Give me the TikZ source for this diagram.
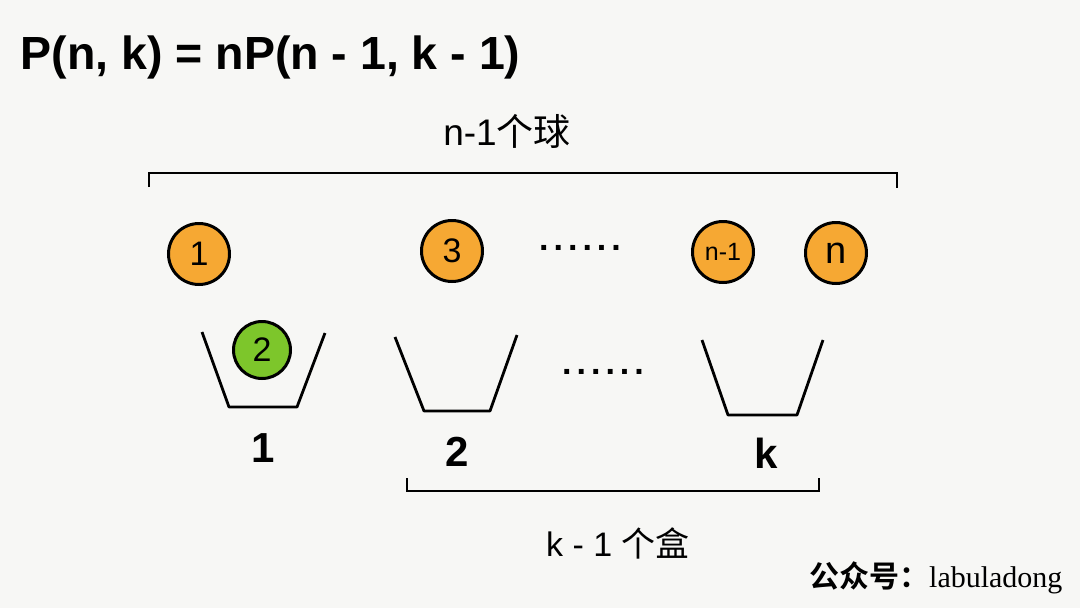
\documentclass[tikz,border=0pt]{standalone}
\usepackage{fontspec}
\setmainfont{Liberation Sans}
\newfontfamily\cjk{Noto Sans CJK SC}
\newfontfamily\cjkbold{Noto Sans CJK SC Bold}
\newfontfamily\serif{Liberation Serif}
\definecolor{paper}{HTML}{F7F7F5}
\definecolor{ballorange}{HTML}{F6A833}
\definecolor{ballgreen}{HTML}{7DC62B}
\newcommand{\dotrow}{.\hspace{5pt}.\hspace{5pt}.\hspace{5pt}.\hspace{5pt}.\hspace{5pt}.}
\tikzset{
  ball/.style={circle, draw, line width=3pt, minimum size=61pt, inner sep=0pt, font=\fontsize{34}{34}\selectfont},
  bucket/.style={line width=2.8pt, line join=round},
  brace/.style={line width=2.2pt},
  boxlabel/.style={font=\fontsize{42}{42}\selectfont\bfseries},
  dotlabel/.style={font=\fontsize{34}{34}\selectfont\bfseries}
}
\begin{document}
\begin{tikzpicture}[x=1pt, y=-1pt]

    \fill[paper] (0, 0) rectangle (1080, 608);
    \useasboundingbox (0, 0) rectangle (1080, 608);

    \node[anchor=west, font=\fontsize{46.5}{46.5}\selectfont\bfseries] (title) at (17, 57) {P(n, k) = nP(n - 1, k - 1)};

    % top bracket: n-1 balls
    \node[font=\fontsize{37}{37}\selectfont] (top) at (507, 131) {n-1\cjk 个球};
    \coordinate (t1) at (149, 187);
    \coordinate (t2) at (897, 188);
    \draw[brace] (t1) -- ++(0, -14) -| (t2);

    % balls
    \node[ball, fill=ballorange] (b1) at (199, 254) {1};
    \node[ball, fill=ballorange] (b3) at (452, 251) {3};
    \node[ball, fill=ballorange, font=\fontsize{25}{25}\selectfont] (bn1) at (723, 252) {n-1};
    \node[ball, fill=ballorange, font=\fontsize{38}{38}\selectfont] (bn) at (836, 253) {n};
    \node[dotlabel] (dots1) at (580, 248) {\dotrow};

    % buckets
    \draw[bucket] (202, 332) -- (229, 407) -- (297, 407) -- (325, 333);
    \draw[bucket] (395, 337) -- (424, 411) -- (490, 411) -- (517, 335);
    \draw[bucket] (702, 340) -- (728, 415) -- (797, 415) -- (823, 340);
    \node[ball, fill=ballgreen, minimum size=57pt] (b2) at (262, 350) {2};
    \node[dotlabel] (dots2) at (603, 372) {\dotrow};

    \node[boxlabel] (l1) at (263, 448) {1};
    \node[boxlabel] (l2) at (457, 452) {2};
    \node[boxlabel] (lk) at (766, 453) {k};

    % bottom bracket: k-1 boxes
    \coordinate (d1) at (407, 478);
    \coordinate (d2) at (819, 478);
    \draw[brace] (d1) -- ++(0, 13) -| (d2);
    \node[font=\fontsize{34}{34}\selectfont] (bottom) at (618, 543) {k - 1 {\cjk 个盒}};

    \node[anchor=east, font=\fontsize{30}{30}\selectfont] (mark) at (1066, 578) {{\cjkbold 公众号：}\serif labuladong};
\end{tikzpicture}
\end{document}
